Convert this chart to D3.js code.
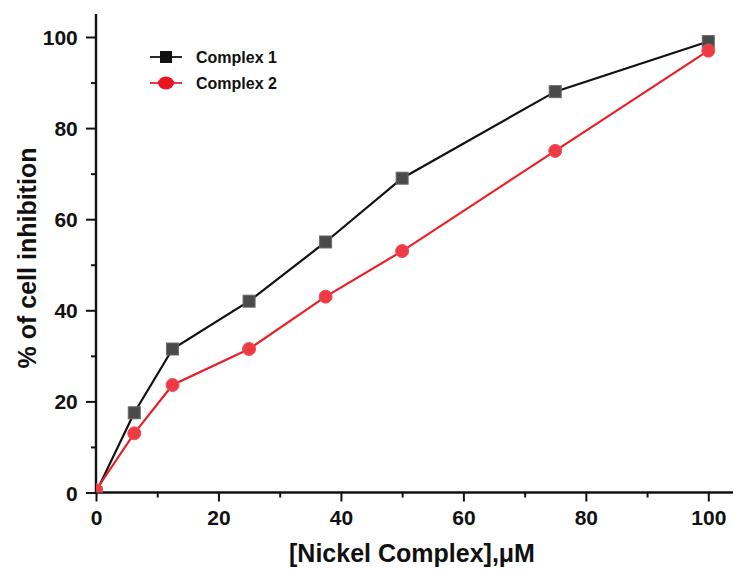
<!DOCTYPE html>
<html>
<head>
<meta charset="utf-8">
<script src="https://cdn.jsdelivr.net/npm/d3@7"></script>
<style>
  html, body { margin: 0; padding: 0; background: #fff; }
  svg { display: block; font-family: Arial, "Liberation Sans", sans-serif; }
</style>
</head>
<body>
<svg id="chart" width="734" height="571"></svg>
<script>
const concentrations = [0, 6.25, 12.5, 25, 37.5, 50, 75, 100];
const complex1 = [0, 17.5, 31.5, 42, 55, 69, 88, 99];
const complex2 = [0.5, 13, 23.6, 31.5, 43, 53, 75, 97];
const seriesNames = ["Complex 1", "Complex 2"];
const xTicks = [0, 20, 40, 60, 80, 100];
const yTicks = [0, 20, 40, 60, 80, 100];
const xTitle = "[Nickel Complex],\u03BCM";
const yTitle = "% of cell inhibition";

const svg = d3.select("#chart");
const pLeft = 96, pRight = 733, pTop = 14, pBottom = 492.5;

const x = d3.scaleLinear().domain([0, 100]).range([96, 708.3]);
const y = d3.scaleLinear().domain([0, 100]).range([492.5, 37]);

// clip
svg.append("clipPath").attr("id", "plotclip")
  .append("rect").attr("x", pLeft).attr("y", 0).attr("width", pRight - pLeft + 10).attr("height", pBottom);

// axes
const xAxis = d3.axisBottom(x).tickValues(xTicks).tickSize(9).tickSizeOuter(0).tickFormat(d3.format("d"));
const xMinor = d3.axisBottom(x).tickValues(d3.range(10, 100, 20)).tickSize(5).tickFormat("");
const yAxis = d3.axisLeft(y).tickValues(yTicks).tickSize(10).tickSizeOuter(0).tickFormat(d3.format("d"));
const yMinor = d3.axisLeft(y).tickValues(d3.range(10, 100, 20)).tickSize(5).tickFormat("");

const gx = svg.append("g").attr("transform", `translate(0,${pBottom})`).call(xAxis);
svg.append("g").attr("transform", `translate(0,${pBottom})`).call(xMinor).select(".domain").remove();
const gy = svg.append("g").attr("transform", `translate(${pLeft},0)`).call(yAxis);
svg.append("g").attr("transform", `translate(${pLeft},0)`).call(yMinor).select(".domain").remove();

// extend domains
gx.select(".domain").attr("d", `M${pLeft},0H${pRight}`);
gy.select(".domain").attr("d", `M0,${pBottom}V${pTop}`);

svg.selectAll(".domain").attr("stroke", "#111").attr("stroke-width", 2.4);
svg.selectAll(".tick line").attr("stroke", "#111").attr("stroke-width", 2);
gx.selectAll(".tick text").attr("font-size", 21).attr("font-weight", "bold").attr("fill", "#111").attr("dy", "0.98em");
gy.selectAll(".tick text").attr("font-size", 21).attr("font-weight", "bold").attr("fill", "#111").attr("dx", "-0.25em").attr("dy", "0.36em");

// titles
svg.append("text").attr("x", 412).attr("y", 562).attr("text-anchor", "middle")
  .attr("font-size", 25).attr("font-weight", "bold").attr("fill", "#111").text(xTitle);
svg.append("text").attr("transform", "translate(36,258) rotate(-90)").attr("text-anchor", "middle")
  .attr("font-size", 25).attr("font-weight", "bold").attr("fill", "#111").text(yTitle);

// series
const data1 = concentrations.map((c, i) => ({x: c, y: complex1[i]}));
const data2 = concentrations.map((c, i) => ({x: c, y: complex2[i]}));
const line = d3.line().x(d => x(d.x)).y(d => y(d.y));
const plot = svg.append("g").attr("clip-path", "url(#plotclip)");

plot.append("path").datum(data1).attr("d", line).attr("fill", "none").attr("stroke", "#111").attr("stroke-width", 2.2);
plot.append("path").datum(data2).attr("d", line).attr("fill", "none").attr("stroke", "#e8202a").attr("stroke-width", 2.2);

plot.selectAll("rect.m1").data(data1).enter().append("rect").attr("class", "m1")
  .attr("x", d => x(d.x) - 6).attr("y", d => y(d.y) - 6).attr("width", 12).attr("height", 12)
  .attr("fill", "#4a4a4a").attr("stroke", "#6a6a6a").attr("stroke-width", 1);
plot.selectAll("circle.m2").data(data2).enter().append("circle").attr("class", "m2")
  .attr("cx", d => x(d.x)).attr("cy", d => y(d.y)).attr("r", 6.5)
  .attr("fill", "#ee3a42").attr("stroke", "#f05058").attr("stroke-width", 1);

// legend
const legend = svg.append("g");
const ly = [57, 83];
seriesNames.forEach((name, i) => {
  const g = legend.append("g").attr("transform", `translate(0,${ly[i]})`);
  g.append("line").attr("x1", 150).attr("x2", 182).attr("y1", 0).attr("y2", 0)
    .attr("stroke", i === 0 ? "#111" : "#e8202a").attr("stroke-width", 1.8);
  if (i === 0) {
    g.append("rect").attr("x", 160).attr("y", -6).attr("width", 12).attr("height", 12).attr("fill", "#111");
  } else {
    g.append("ellipse").attr("cx", 166).attr("cy", 0).attr("rx", 8).attr("ry", 6.5).attr("fill", "#e8141e");
  }
  g.append("text").attr("x", 196).attr("y", 0).attr("dy", "0.36em")
    .attr("font-size", 16).attr("font-weight", "bold").attr("fill", "#111").text(name);
});
</script>
</body>
</html>
